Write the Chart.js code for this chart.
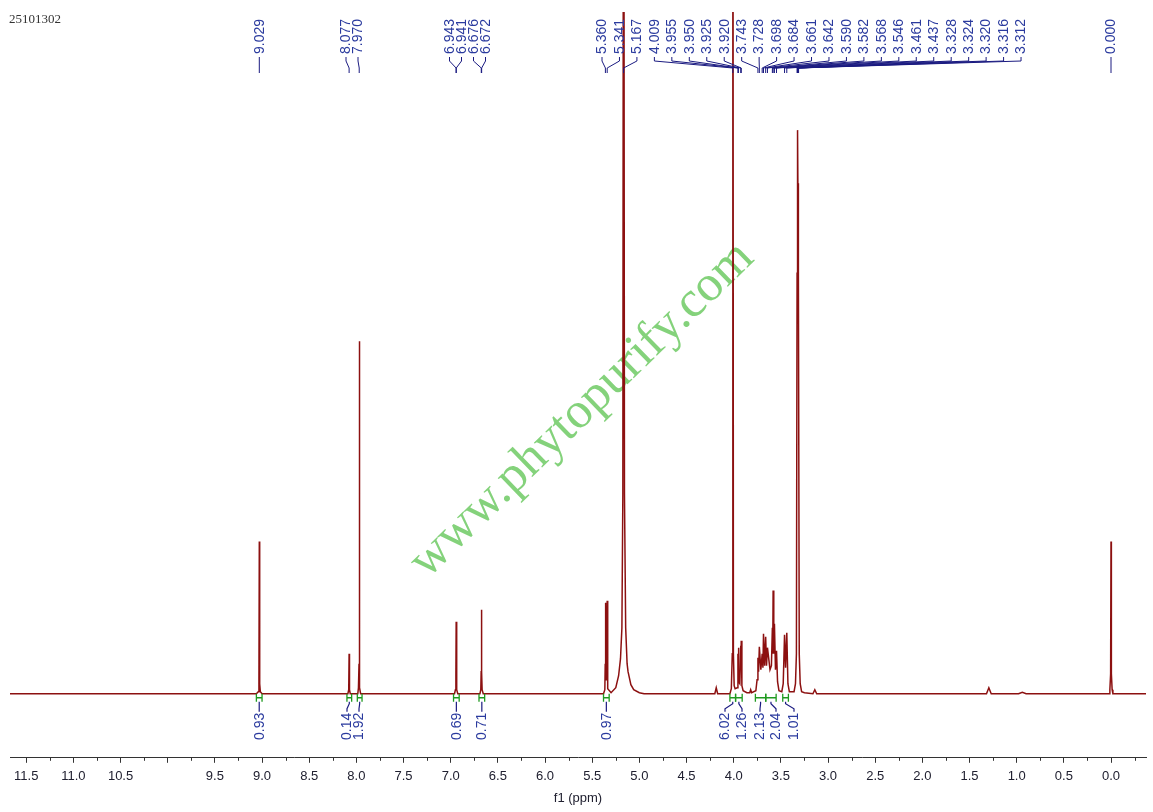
<!DOCTYPE html>
<html><head><meta charset="utf-8">
<script src="https://cdn.jsdelivr.net/npm/chart.js@4"></script>
<style>html,body{margin:0;padding:0;background:#fff;overflow:hidden}canvas{display:block}</style>
</head><body>
<canvas id="c" width="1153" height="812"></canvas>
<script>
// ---------------- DATA ----------------
const SAMPLE_ID = '25101302';
// spectrum trace (ppm, intensity)
const SPEC_PPM = [11.672, 9.06, 9.040, 9.033, 9.029, 9.025, 9.018, 9.00,
  8.09, 8.081, 8.077, 8.073, 8.065, 7.985, 7.978, 7.972, 7.970, 7.968, 7.962, 7.955,
  6.96, 6.950, 6.945, 6.942, 6.939, 6.934, 6.925, 6.69, 6.681, 6.677, 6.674, 6.671, 6.667, 6.655,
  5.38, 5.366, 5.362, 5.360, 5.355, 5.350, 5.346, 5.341, 5.338, 5.333, 5.30,
  5.25, 5.22, 5.20, 5.185, 5.175, 5.167, 5.158, 5.145, 5.13, 5.12, 5.09, 5.06, 5.00, 4.95,
  4.20, 4.185, 4.17, 4.04, 4.025, 4.015, 4.009, 4.003, 3.995, 3.985,
  3.962, 3.955, 3.953, 3.950, 3.945, 3.935, 3.925, 3.923, 3.920, 3.913, 3.90,
  3.86, 3.83, 3.82, 3.81, 3.765, 3.752, 3.743, 3.736, 3.728, 3.712, 3.698, 3.690, 3.684, 3.672,
  3.661, 3.652, 3.642, 3.615, 3.600, 3.590, 3.586, 3.582, 3.575, 3.568, 3.557, 3.546, 3.535, 3.52,
  3.49, 3.475, 3.461, 3.450, 3.437, 3.425, 3.41, 3.36, 3.345, 3.335,
  3.328, 3.326, 3.324, 3.322, 3.320, 3.318, 3.316, 3.314, 3.312, 3.305, 3.295, 3.28, 3.25,
  3.16, 3.14, 3.12, 1.32, 1.295, 1.27, 0.98, 0.94, 0.90,
  0.02, 0.012, 0.004, 0.000, -0.004, -0.012, -0.02, -0.371];
const SPEC_INT = [0, 0, 2, 10, 152, 10, 2, 0,
  0, 4, 40, 4, 0, 0, 6, 30, 352, 30, 6, 0,
  0, 4, 20, 72, 20, 4, 0, 0, 4, 22, 84, 22, 4, 0,
  0, 4, 30, 91, 18, 14, 18, 93, 30, 5, 1,
  6, 18, 35, 66, 200, 1200, 200, 66, 30, 22, 9, 4, 1, 0,
  0, 6, 0, 0, 5, 40, 1200, 40, 8, 5,
  6, 40, 25, 46, 12, 10, 48, 28, 53, 8, 3,
  1, 1, 4, 1, 3, 14, 36, 22, 47, 24, 40, 26, 60, 28,
  57, 28, 46, 24, 28, 66, 40, 103, 40, 70, 24, 43, 12, 3,
  2, 10, 59, 26, 61, 10, 2, 2, 10, 40,
  420, 460, 510, 490, 563, 490, 510, 460, 420, 40, 10, 2, 1,
  0, 4, 0, 0, 6, 0, 0, 1.5, 0,
  0, 4, 20, 152, 20, 4, 0, 0];
// peak labels (top)
const PEAK_LABELS = ['9.029','8.077','7.970','6.943','6.941','6.676','6.672','5.360','5.341','5.167',
  '4.009','3.955','3.950','3.925','3.920','3.743','3.728','3.698','3.684','3.661','3.642','3.590',
  '3.582','3.568','3.546','3.461','3.437','3.328','3.324','3.320','3.316','3.312','0.000'];
// integrals (bottom)
const INTEG_VALUES = ['0.93','0.14','1.92','0.69','0.71','0.97','6.02','1.26','2.13','2.04','1.01'];
const INTEG_FROM = [9.06, 8.10, 7.99, 6.97, 6.70, 5.38, 4.04, 3.98, 3.77, 3.66, 3.48];
const INTEG_TO   = [9.00, 8.05, 7.94, 6.91, 6.64, 5.32, 3.98, 3.91, 3.66, 3.55, 3.42];
// axis tick labels
const TICK_LABELS = ['11.5','11.0','10.5','9.5','9.0','8.5','8.0','7.5','7.0','6.5','6.0','5.5',
  '5.0','4.5','4.0','3.5','3.0','2.5','2.0','1.5','1.0','0.5','0.0'];
const AXIS_TITLE = 'f1 (ppm)';
const WATERMARK = 'www.phytopurify.com';

// ---------------- LAYOUT ----------------
const X_MIN = -0.371, X_MAX = 11.672, Y_MIN = -64, Y_MAX = 681;
// label slot x positions (null = directly above its peak)
const LABEL_X = (() => {
  const a = [null, 346, 358, 449.5, 461.5, 473.5, 485.5];
  for (let i = 0; i < 25; i++) a.push(602 + 17.46 * i);
  a.push(null);
  return a;
})();
const INTEG_LABEL_X = [null, 347, 359, null, null, null, 725, 742, 760, 776, 794];
const LABEL_COLOR = '#2a3a9e', LINK_COLOR = '#1a1a80', GREEN = '#1f9a1f';
const SPEC_COLOR = '#8c1010';

const isMajor = v => Math.abs(v * 2 - Math.round(v * 2)) < 1e-6;
const labelFor = v => { const l = TICK_LABELS.find(s => Math.abs(parseFloat(s) - v) < 1e-6); return l || ''; };

const annot = {
  id: 'annot',
  beforeDatasetsDraw(chart) {
    const ctx = chart.ctx;
    ctx.save();
    ctx.translate(582, 410);
    ctx.rotate(-44.2 * Math.PI / 180);
    ctx.font = '51px "Liberation Serif", "Times New Roman", serif';
    ctx.fillStyle = 'rgba(110,202,100,0.85)';
    ctx.textAlign = 'center'; ctx.textBaseline = 'middle';
    ctx.fillText(WATERMARK, 0, 0);
    ctx.restore();
  },
  afterDatasetsDraw(chart) {
    const ctx = chart.ctx, xs = chart.scales.x, ys = chart.scales.y, ca = chart.chartArea;
    const base = ys.getPixelForValue(0);
    ctx.save();
    // sample id
    ctx.font = '13px "Liberation Serif", "Times New Roman", serif';
    ctx.fillStyle = '#333'; ctx.textAlign = 'left'; ctx.textBaseline = 'middle';
    ctx.fillText(SAMPLE_ID, 9, 20);
    // peak labels
    ctx.font = '14px "Liberation Sans", Arial, sans-serif';
    ctx.lineWidth = 1;
    PEAK_LABELS.forEach((lab, i) => {
      const px = xs.getPixelForValue(parseFloat(lab));
      const lx = LABEL_X[i] == null ? px : LABEL_X[i];
      ctx.strokeStyle = LINK_COLOR;
      ctx.beginPath();
      ctx.moveTo(lx, 57); ctx.lineTo(lx, 61); ctx.lineTo(px, 68); ctx.lineTo(px, 73);
      ctx.stroke();
      ctx.save();
      ctx.translate(lx + 0.5, 54);
      ctx.rotate(-Math.PI / 2);
      ctx.fillStyle = LABEL_COLOR; ctx.textAlign = 'left'; ctx.textBaseline = 'middle';
      ctx.fillText(lab, 0, 0);
      ctx.restore();
    });
    // integrals
    INTEG_VALUES.forEach((lab, j) => {
      const x1 = xs.getPixelForValue(INTEG_FROM[j]), x2 = xs.getPixelForValue(INTEG_TO[j]);
      const xc = (x1 + x2) / 2;
      const lx = INTEG_LABEL_X[j] == null ? xc : INTEG_LABEL_X[j];
      ctx.strokeStyle = GREEN; ctx.lineWidth = 1.3;
      ctx.beginPath();
      ctx.moveTo(x1, base); ctx.lineTo(x1, base + 8);
      ctx.moveTo(x2, base); ctx.lineTo(x2, base + 8);
      ctx.moveTo(x1, base + 4); ctx.lineTo(x2, base + 4);
      ctx.stroke();
      ctx.strokeStyle = LINK_COLOR; ctx.lineWidth = 1.2;
      ctx.beginPath();
      ctx.moveTo(xc, base + 8); ctx.lineTo(xc, base + 10); ctx.lineTo(lx, base + 15); ctx.lineTo(lx, base + 18);
      ctx.stroke();
      ctx.save();
      ctx.translate(lx + 0.5, base + 19);
      ctx.rotate(-Math.PI / 2);
      ctx.fillStyle = LABEL_COLOR; ctx.textAlign = 'right'; ctx.textBaseline = 'middle';
      ctx.fillText(lab, 0, 0);
      ctx.restore();
    });
    // minor ticks
    ctx.strokeStyle = '#333'; ctx.lineWidth = 1;
    xs.ticks.forEach(t => {
      if (isMajor(t.value)) return;
      const x = Math.round(xs.getPixelForValue(t.value)) + 0.5;
      ctx.beginPath(); ctx.moveTo(x, ca.bottom); ctx.lineTo(x, ca.bottom + 3); ctx.stroke();
    });
    ctx.restore();
  }
};

const points = SPEC_PPM.map((p, i) => ({ x: p, y: SPEC_INT[i] }));

new Chart(document.getElementById('c'), {
  type: 'scatter',
  data: { datasets: [{ data: points, showLine: true, pointRadius: 0, borderColor: SPEC_COLOR,
    borderWidth: 1.5, tension: 0 }] },
  options: {
    responsive: false, animation: false, devicePixelRatio: 1,
    layout: { padding: { left: 10, right: 7, top: 12, bottom: 2 } },
    plugins: { legend: { display: false }, tooltip: { enabled: false } },
    scales: {
      x: {
        type: 'linear', reverse: true, min: X_MIN, max: X_MAX, position: 'bottom',
        afterBuildTicks: s => {
          const t = [];
          for (let v = 11.5; v >= -0.26; v -= 0.25) t.push({ value: Math.round(v * 100) / 100 });
          s.ticks = t;
        },
        border: { display: true, color: '#333', width: 1 },
        grid: { drawOnChartArea: false, drawTicks: true, tickLength: 5,
          tickColor: c => (c.tick && isMajor(c.tick.value)) ? '#333' : 'rgba(0,0,0,0)' },
        ticks: { autoSkip: false, maxRotation: 0, padding: 6, color: '#202030',
          font: { size: 13, family: '"Liberation Sans", Arial, sans-serif' },
          callback: v => labelFor(v) },
        title: { display: true, text: AXIS_TITLE, color: '#202030', padding: { top: 0, bottom: 4 },
          font: { size: 13, family: '"Liberation Sans", Arial, sans-serif' } }
      },
      y: { display: false, min: Y_MIN, max: Y_MAX }
    }
  },
  plugins: [annot]
});
</script>
</body></html>
